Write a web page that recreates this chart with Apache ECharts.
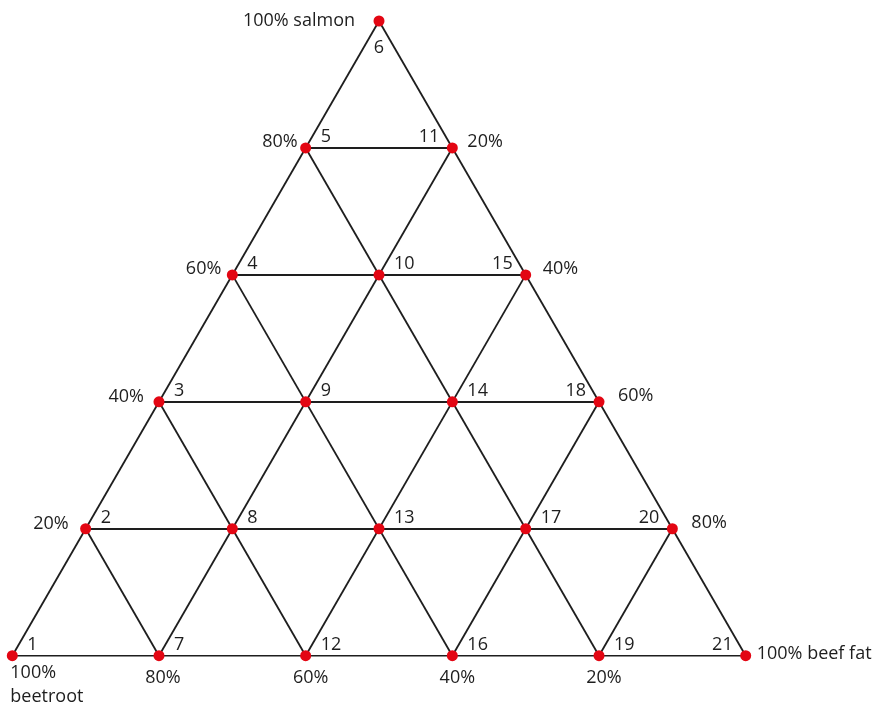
<!DOCTYPE html>
<html>
<head>
<meta charset="utf-8">
<script src="https://cdn.jsdelivr.net/npm/echarts@6/dist/echarts.min.js"></script>
<style>
	html, body { margin: 0; padding: 0; background: #fff; }
	#main { width: 872px; height: 706px; }
</style>
</head>
<body>
<div id="main"></div>
<script>
// 混合点编号及其成分 (%)
var pointIds = [1, 2, 3, 4, 5, 6, 7, 8, 9, 10, 11, 12, 13, 14, 15, 16, 17, 18, 19, 20, 21];
var salmonPct = [0, 20, 40, 60, 80, 100, 0, 20, 40, 60, 80, 0, 20, 40, 60, 0, 20, 40, 0, 20, 0];
var beefFatPct = [0, 0, 0, 0, 0, 0, 20, 20, 20, 20, 20, 40, 40, 40, 40, 60, 60, 60, 80, 80, 100];
// 网格线的等值水平
var gridLevels = [0, 20, 40, 60, 80];
// 边上的百分比标签 (按点编号)
var edgeLabels = ['100%\nbeetroot', '20%', '40%', '60%', '80%', '100% salmon',
	'80%', '', '', '', '20%', '60%', '', '', '40%', '40%', '', '60%', '20%', '80%', '100% beef fat'];

var FONT = '"Open Sans", "Noto Sans", sans-serif';
var INK = '#1e1e1e';

// 三元坐标 -> 直角坐标
function toXY(beef, salmon){
	return [beef + salmon / 2, salmon];
}

// 编号标签位置 (样式)
var leftNums = [11, 15, 18, 20, 21];
function numLabel(id){
	if(id == 6){
		return { offset: [0, 27], align: 'center' };
	}
	if(leftNums.indexOf(id) >= 0){
		return { offset: [-13, -11], align: 'right' };
	}
	return { offset: [15, -11], align: 'left' };
}
// 百分比标签位置 (样式)
var edgeStyle = {
	1: { offset: [-2, 29], align: 'left' },
	2: { offset: [-17, -5], align: 'right' },
	3: { offset: [-15, -5], align: 'right' },
	4: { offset: [-11, -6], align: 'right' },
	5: { offset: [-8, -6], align: 'right' },
	6: { offset: [-24, 0], align: 'right' },
	7: { offset: [4, 22], align: 'center' },
	12: { offset: [5, 22], align: 'center' },
	16: { offset: [5, 22], align: 'center' },
	19: { offset: [5, 22], align: 'center' },
	11: { offset: [15, -6], align: 'left' },
	15: { offset: [17, -6], align: 'left' },
	18: { offset: [19, -6], align: 'left' },
	20: { offset: [19, -6], align: 'left' },
	21: { offset: [11, -2], align: 'left' }
};

var lineData = [];
for(var L of gridLevels){
	// 鲑鱼含量恒定
	lineData.push({ coords: [toXY(0, L), toXY(100 - L, L)] });
	// 牛脂含量恒定
	lineData.push({ coords: [toXY(L, 0), toXY(L, 100 - L)] });
	// 甜菜含量恒定
	lineData.push({ coords: [toXY(0, 100 - L), toXY(100 - L, 0)] });
}

var pointData = [];
var edgeData = [];
for(var i = 0; i < pointIds.length; i++){
	var id = pointIds[i];
	var xy = toXY(beefFatPct[i], salmonPct[i]);
	var nl = numLabel(id);
	pointData.push({
		value: xy,
		name: String(id),
		label: {
			show: true,
			position: 'inside',
			formatter: String(id),
			offset: nl.offset,
			align: nl.align,
			verticalAlign: 'middle'
		}
	});
	if(edgeLabels[i]){
		var es = edgeStyle[id];
		edgeData.push({
			value: xy,
			label: {
				show: true,
				position: 'inside',
				formatter: edgeLabels[i],
				offset: es.offset,
				align: es.align,
				verticalAlign: 'middle'
			}
		});
	}
}

var myChart = echarts.init(document.getElementById('main'));
var option = {
	backgroundColor: '#ffffff',
	animation: false,
	grid: {
		left: 12.3,
		right: 126.3,
		top: 21,
		bottom: 50.3
	},
	xAxis: {
		type: 'value',
		min: 0,
		max: 100,
		show: false
	},
	yAxis: {
		type: 'value',
		min: 0,
		max: 100,
		show: false
	},
	series: [{
		type: 'lines',
		coordinateSystem: 'cartesian2d',
		silent: true,
		lineStyle: {
			color: INK,
			width: 1.8,
			opacity: 1
		},
		z: 1,
		data: lineData
	},{
		type: 'scatter',
		symbol: 'circle',
		symbolSize: 11,
		itemStyle: {
			color: '#e30613',
			opacity: 1
		},
		label: {
			color: INK,
			fontFamily: FONT,
			fontSize: 18
		},
		z: 3,
		data: pointData
	},{
		// 只用于显示百分比标签, 圆点被红点盖住
		type: 'scatter',
		symbol: 'circle',
		symbolSize: 1,
		silent: true,
		itemStyle: { color: '#ffffff', opacity: 1 },
		label: {
			color: INK,
			fontFamily: FONT,
			fontSize: 18,
			lineHeight: 24
		},
		z: 2,
		data: edgeData
	}]
};
myChart.setOption(option);
</script>
</body>
</html>
